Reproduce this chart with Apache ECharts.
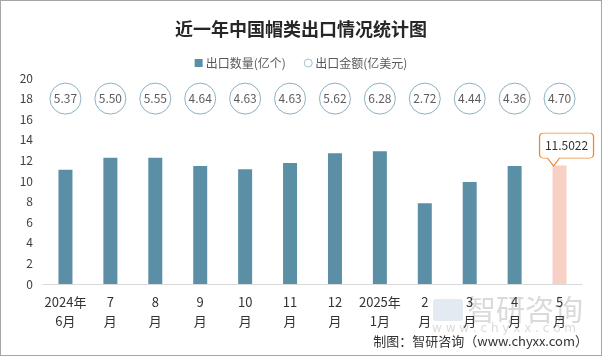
<!DOCTYPE html>
<html><head><meta charset="utf-8">
<script src="https://cdn.jsdelivr.net/npm/echarts@6/dist/echarts.min.js"></script>
<style>html,body{margin:0;padding:0;background:#fff}#wrap{width:602px;height:356px;box-sizing:border-box;border:1px solid #a6a6a6;}#c{width:600px;height:354px}</style>
</head><body><div id="wrap"><div id="c"></div></div>
<script>
const categories = ['2024年\n6月','7\n月','8\n月','9\n月','10\n月','11\n月','12\n月','2025年\n1月','2\n月','3\n月','4\n月','5\n月'];
const quantity = [11.1, 12.25, 12.25, 11.45, 11.15, 11.75, 12.7, 12.9, 7.85, 9.9, 11.45, 11.5022];
const amount = [5.37, 5.50, 5.55, 4.64, 4.63, 4.63, 5.62, 6.28, 2.72, 4.44, 4.36, 4.70];
const yMin = 0, yMax = 20, yStep = 2;
const bubbleRowY = 18;

const barColor = '#5B8FA6';
const highlightColor = '#F8D0C6';
const last = quantity.length - 1;

const barData = quantity.map((v, i) => i === last ? {value: v, itemStyle: {color: highlightColor}} : v);
const bubbleData = amount.map(() => bubbleRowY);

const chart = echarts.init(document.getElementById('c'));
chart.setOption({
  animation: false,
  backgroundColor: '#fff',
  title: {
    text: '近一年中国帽类出口情况统计图',
    left: 'center', top: 14,
    textStyle: {fontFamily: 'Noto Sans CJK SC', fontSize: 18, fontWeight: 'bold', color: '#262626'}
  },
  legend: {
    top: 51, left: 'center', itemGap: 18, itemWidth: 8, itemHeight: 8,
    textStyle: {fontFamily: 'Noto Sans CJK SC', fontSize: 12, color: '#595959', padding: [0,0,0,-2]},
    data: [
      {name: '出口数量(亿个)', icon: 'rect'},
      {name: '出口金额(亿美元)', icon: 'circle', itemStyle: {color: '#fff', borderColor: '#8DB0C2', borderWidth: 1}}
    ]
  },
  grid: {left: 42, right: 19, top: 77, bottom: 71, containLabel: false},
  xAxis: {
    type: 'category', data: categories,
    axisLine: {lineStyle: {color: '#D9D9D9'}},
    axisTick: {show: false},
    axisLabel: {fontFamily: 'Noto Sans CJK SC', fontSize: 13, color: '#333', lineHeight: 19, margin: 9, interval: 0}
  },
  yAxis: {
    type: 'value', min: yMin, max: yMax, interval: yStep,
    axisLine: {show: false}, axisTick: {show: false}, splitLine: {show: false},
    axisLabel: {fontFamily: 'Noto Sans CJK SC', fontSize: 12, color: '#404040', margin: 10}
  },
  series: [
    {
      name: '出口数量(亿个)', type: 'bar', barWidth: 14, data: barData,
      itemStyle: {color: barColor},
      markPoint: {
        symbol: 'path://M4,0 L50,0 Q54,0 54,4 L54,21 Q54,25 50,25 L20,25 L14,33 L8,25 L4,25 Q0,25 0,21 L0,4 Q0,0 4,0 Z',
        symbolSize: [54, 33],
        symbolOffset: [7, -16],
        itemStyle: {color: '#fff', borderColor: '#EE8A2E', borderWidth: 1},
        label: {show: true, position: 'inside', offset: [0, -4], color: '#333', fontSize: 12, fontFamily: 'Noto Sans CJK SC', formatter: p => String(p.value)},
        data: [{coord: [categories[last], quantity[last]], value: quantity[last]}]
      }
    },
    {
      name: '出口金额(亿美元)', type: 'scatter', data: bubbleData,
      symbol: 'circle', symbolSize: 31,
      itemStyle: {color: '#fff', borderColor: '#6F9DB4', borderWidth: 1},
      label: {show: true, position: 'inside', color: '#333', fontSize: 12, fontFamily: 'Noto Sans CJK SC',
        formatter: p => amount[p.dataIndex].toFixed(2)}
    }
  ],
  graphic: [
    {type: 'text', left: 466, top: 294, z: 0, style: {text: '智研咨询', font: '29px "Noto Sans CJK SC"', fill: 'rgba(150,150,150,0.35)'}},
    {type: 'rect', left: 432, top: 298, z: 0, shape: {width: 30, height: 22, r: 3}, style: {fill: 'rgba(120,150,190,0.2)'}},
    {type: 'text', left: 431, top: 322, z: 0, style: {text: 'w w w . c h y x x . c o m', font: '12px "DejaVu Sans"', fill: 'rgba(150,150,150,0.35)'}},
    {type: 'text', right: 13, top: 334, z: 10, style: {text: '制图：智研咨询（www.chyxx.com）', font: '13px "Noto Sans CJK SC"', fill: '#333'}}
  ]
});
</script></body></html>
